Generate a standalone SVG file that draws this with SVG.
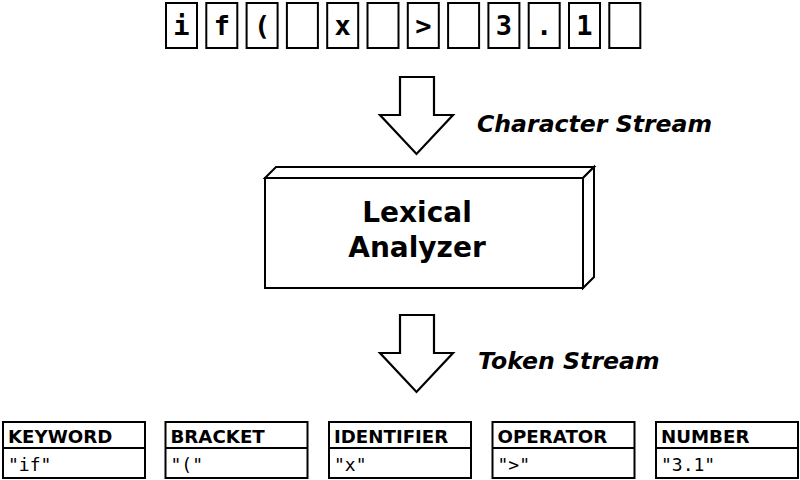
<svg xmlns="http://www.w3.org/2000/svg" width="800" height="480" viewBox="0 0 800 480">
<style>
.box{fill:#fff;stroke:#000;stroke-width:2}
.ch{font-family:"DejaVu Sans Mono",monospace;font-weight:bold;font-size:27px;text-anchor:middle}
.lbl{font-family:"DejaVu Sans",sans-serif;font-weight:bold;font-style:italic;font-size:23.6px}
.title{font-family:"DejaVu Sans",sans-serif;font-weight:bold;font-size:28px;text-anchor:middle}
.hdr{font-family:"DejaVu Sans",sans-serif;font-weight:bold;font-size:18.2px}
.val{font-family:"DejaVu Sans Mono",monospace;font-size:18px}
.arrow{fill:#fff;stroke:#000;stroke-width:2.2;stroke-linejoin:miter}
</style>
<rect width="800" height="480" fill="#fff"/>
<g id="chars">
<g id="c1"><rect class="box" x="166" y="3" width="31" height="45"/><text class="ch" x="181.5" y="35">i</text></g>
<g id="c2"><rect class="box" x="206.3" y="3" width="31" height="45"/><text class="ch" x="221.8" y="35">f</text></g>
<g id="c3"><rect class="box" x="246.6" y="3" width="31" height="45"/><text class="ch" x="262.1" y="35">(</text></g>
<g id="c4"><rect class="box" x="286.9" y="3" width="31" height="45"/></g>
<g id="c5"><rect class="box" x="327.2" y="3" width="31" height="45"/><text class="ch" x="342.7" y="35">x</text></g>
<g id="c6"><rect class="box" x="367.5" y="3" width="31" height="45"/></g>
<g id="c7"><rect class="box" x="407.8" y="3" width="31" height="45"/><text class="ch" x="423.3" y="35">&gt;</text></g>
<g id="c8"><rect class="box" x="448.1" y="3" width="31" height="45"/></g>
<g id="c9"><rect class="box" x="488.4" y="3" width="31" height="45"/><text class="ch" x="503.9" y="35">3</text></g>
<g id="c10"><rect class="box" x="528.7" y="3" width="31" height="45"/><text class="ch" x="544.2" y="35">.</text></g>
<g id="c11"><rect class="box" x="569" y="3" width="31" height="45"/><text class="ch" x="584.5" y="35">1</text></g>
<g id="c12"><rect class="box" x="609.3" y="3" width="31" height="45"/></g>
</g>
<g id="connectors">
<path class="arrow" d="M400,77 H434 V115 H453 L416.5,154 L380,115 H400 Z"/>
<path class="arrow" d="M400,315 H434 V353 H453 L416.5,392 L380,353 H400 Z"/>
</g>
<text class="lbl" x="477" y="132">Character Stream</text>
<text class="lbl" x="478" y="369">Token Stream</text>
<g id="lexer">
<path class="box" d="M265,178 L276,167 H594 L583,178 Z"/>
<path class="box" d="M583,178 L594,167 V277 L583,288 Z"/>
<rect class="box" x="265" y="178" width="318" height="110"/>
<text class="title" x="417" y="222">Lexical</text>
<text class="title" x="417" y="257">Analyzer</text>
</g>
<g id="t1"><rect class="box" x="3" y="422" width="142" height="56"/><line x1="3" y1="448" x2="145" y2="448" stroke="#000" stroke-width="2"/><text class="hdr" x="8" y="443">KEYWORD</text><text class="val" x="8" y="471">"if"</text></g>
<g id="t2"><rect class="box" x="165.5" y="422" width="142" height="56"/><line x1="165.5" y1="448" x2="307.5" y2="448" stroke="#000" stroke-width="2"/><text class="hdr" x="170.5" y="443">BRACKET</text><text class="val" x="170.5" y="471">"("</text></g>
<g id="t3"><rect class="box" x="329" y="422" width="142" height="56"/><line x1="329" y1="448" x2="471" y2="448" stroke="#000" stroke-width="2"/><text class="hdr" x="334" y="443">IDENTIFIER</text><text class="val" x="334" y="471">"x"</text></g>
<g id="t4"><rect class="box" x="492.5" y="422" width="142" height="56"/><line x1="492.5" y1="448" x2="634.5" y2="448" stroke="#000" stroke-width="2"/><text class="hdr" x="497.5" y="443">OPERATOR</text><text class="val" x="497.5" y="471">"&gt;"</text></g>
<g id="t5"><rect class="box" x="656" y="422" width="142" height="56"/><line x1="656" y1="448" x2="798" y2="448" stroke="#000" stroke-width="2"/><text class="hdr" x="661" y="443">NUMBER</text><text class="val" x="661" y="471">"3.1"</text></g>
</svg>
